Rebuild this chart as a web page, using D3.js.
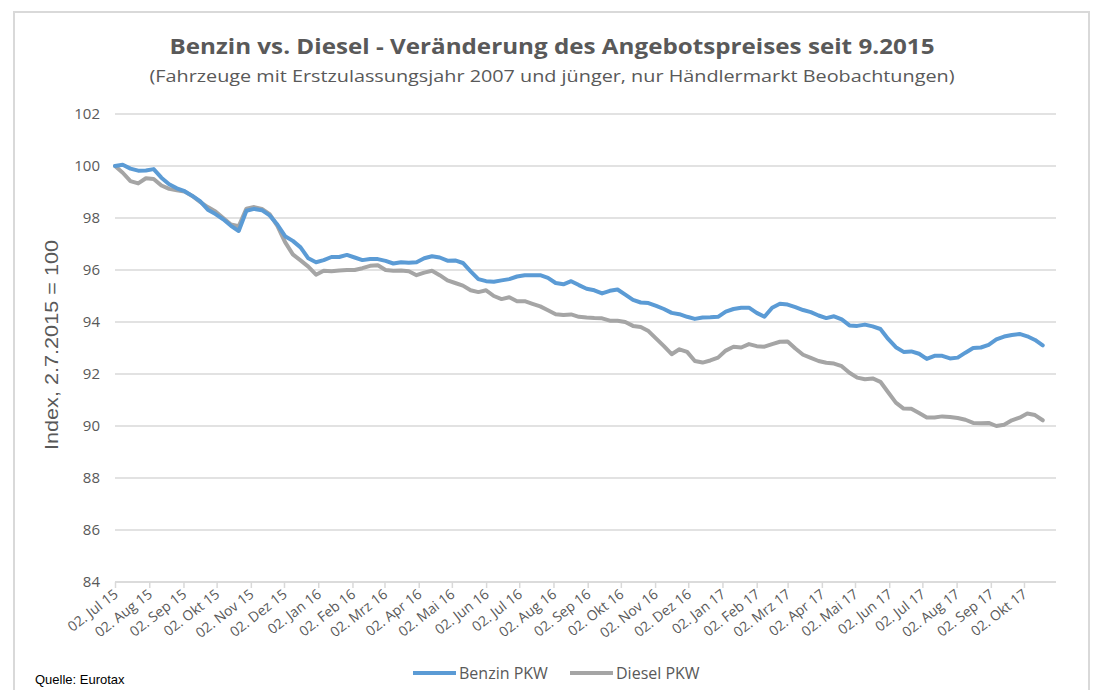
<!DOCTYPE html>
<html>
<head>
<meta charset="utf-8">
<title>Benzin vs. Diesel</title>
<script src="https://cdn.jsdelivr.net/npm/d3@7/dist/d3.min.js"></script>
<style>
  body { margin: 0; background: #fff; }
  text { font-family: "Open Sans", sans-serif; fill: #595959; }
</style>
</head>
<body>
<script>
// weekly index values, first point 02.07.2015
var startDate = new Date(2015, 6, 2);
var benzin = [
  100.0, 100.05, 99.9, 99.82, 99.83, 99.88, 99.55, 99.3, 99.14, 99.03,
  98.85, 98.65, 98.32, 98.15, 97.95, 97.7, 97.5, 98.28, 98.35, 98.3,
  98.1, 97.75, 97.3, 97.12, 96.87, 96.45, 96.3, 96.38, 96.5, 96.5,
  96.58, 96.48, 96.38, 96.42, 96.42, 96.35, 96.25, 96.3, 96.28, 96.3,
  96.45, 96.53, 96.48, 96.36, 96.37, 96.27, 95.95, 95.65, 95.57, 95.55,
  95.6, 95.65, 95.75, 95.8, 95.8, 95.8, 95.7, 95.5, 95.45, 95.57,
  95.42, 95.28, 95.22, 95.1, 95.2, 95.25, 95.05, 94.85, 94.75, 94.73,
  94.62, 94.5, 94.35, 94.3, 94.2, 94.12, 94.17, 94.18, 94.2, 94.4,
  94.5, 94.55, 94.55, 94.35, 94.2, 94.55, 94.7, 94.67, 94.57, 94.46,
  94.38, 94.25, 94.15, 94.22, 94.1, 93.87, 93.85, 93.9, 93.83, 93.73,
  93.35, 93.03, 92.85, 92.87, 92.78, 92.58, 92.7, 92.7, 92.6, 92.63,
  92.82, 93.0, 93.02, 93.12, 93.33, 93.44, 93.5, 93.54, 93.45, 93.31,
  93.1
];
var diesel = [
  100.0, 99.74, 99.42, 99.33, 99.53, 99.5, 99.25, 99.12, 99.07, 99.02,
  98.85, 98.62, 98.42, 98.25, 98.0, 97.75, 97.68, 98.36, 98.42, 98.35,
  98.15, 97.7, 97.07, 96.6, 96.37, 96.13, 95.82, 95.97, 95.95, 95.98,
  96.0, 96.0, 96.07, 96.16, 96.18, 96.0, 95.97, 95.98, 95.95, 95.8,
  95.9, 95.97, 95.8, 95.6, 95.5, 95.4, 95.22, 95.15, 95.22, 95.0,
  94.88, 94.95, 94.8, 94.8, 94.7, 94.6, 94.45, 94.3, 94.27, 94.29,
  94.2, 94.17, 94.15, 94.14, 94.05, 94.05, 94.0, 93.85, 93.81, 93.65,
  93.36, 93.07, 92.76, 92.95, 92.85, 92.5, 92.44, 92.52, 92.63, 92.9,
  93.05, 93.02, 93.15, 93.07, 93.05, 93.15, 93.24, 93.25, 92.98, 92.74,
  92.62, 92.5, 92.43, 92.4, 92.3, 92.05, 91.86, 91.8, 91.83, 91.7,
  91.3, 90.9, 90.67, 90.66, 90.5, 90.33, 90.33, 90.37, 90.35, 90.31,
  90.24, 90.12, 90.11, 90.12, 90.0, 90.05, 90.22, 90.32, 90.48, 90.42,
  90.22
];
var yTicks = [84, 86, 88, 90, 92, 94, 96, 98, 100, 102];
var monthNames = ["Jan", "Feb", "Mrz", "Apr", "Mai", "Jun", "Jul", "Aug", "Sep", "Okt", "Nov", "Dez"];
var seriesNames = ["Benzin PKW", "Diesel PKW"];
var colors = ["#5B9BD5", "#A5A5A5"];

var width = 1098, height = 690;
var margin = {top: 114, right: 42, bottom: 108, left: 115};

var svg = d3.select("body").append("svg")
    .attr("width", width)
    .attr("height", height);

// rahmen
svg.append("rect")
    .attr("x", 14).attr("y", 12)
    .attr("width", 1075).attr("height", 700)
    .attr("fill", "#fff")
    .attr("stroke", "#d9d9d9")
    .attr("stroke-width", 2);

var dates = benzin.map((d, i) => d3.timeDay.offset(startDate, 7 * i));
var monthTicks = d3.range(0, 28).map(i => new Date(2015, 6 + i, 2));

var x = d3.scaleTime()
    .domain([startDate, new Date(2017, 9, 31)])
    .range([margin.left, width - margin.right]);
var y = d3.scaleLinear()
    .domain([84, 102])
    .range([height - margin.bottom, margin.top]);

// gridlines
svg.append("g")
    .selectAll("line")
    .data(yTicks)
    .join("line")
    .attr("x1", x.range()[0]).attr("x2", x.range()[1])
    .attr("y1", d => y(d)).attr("y2", d => y(d))
    .attr("stroke", "#d9d9d9")
    .attr("stroke-width", 1.5);

// y achse
svg.append("g")
    .selectAll("text")
    .data(yTicks)
    .join("text")
    .attr("x", 100)
    .attr("y", d => y(d))
    .attr("dy", "0.35em")
    .attr("text-anchor", "end")
    .attr("font-size", 15)
    .text(d => d);

svg.append("text")
    .attr("transform", "translate(58,345) rotate(-90)")
    .attr("text-anchor", "middle")
    .style("font-family", "Liberation Sans, Arial, sans-serif")
    .attr("font-size", 19)
    .attr("textLength", 210)
    .attr("lengthAdjust", "spacingAndGlyphs")
    .text("Index,  2.7.2015 = 100");

// x achse
var xAxis = g => g
    .attr("transform", `translate(0,${y(84)})`)
    .call(d3.axisBottom(x).tickValues(monthTicks).tickSize(6).tickFormat(""))
    .call(g => g.select(".domain").attr("stroke", "#d9d9d9").attr("stroke-width", 1.5).attr("d", `M${x.range()[0]},0H${x.range()[1]}`))
    .call(g => g.selectAll(".tick line").attr("stroke", "#d9d9d9").attr("stroke-width", 1.5));
svg.append("g").call(xAxis);

svg.append("g")
    .selectAll("text")
    .data(monthTicks)
    .join("text")
    .attr("transform", d => `translate(${x(d) + 4},${y(84) + 14}) rotate(-38)`)
    .attr("text-anchor", "end")
    .attr("font-size", 14)
    .text(d => "02. " + monthNames[d.getMonth()] + " " + String(d.getFullYear()).slice(2));

// linien
var line = d3.line()
    .x((d, i) => x(dates[i]))
    .y(d => y(d));

svg.append("path")
    .datum(diesel)
    .attr("fill", "none")
    .attr("stroke", colors[1])
    .attr("stroke-width", 4)
    .attr("stroke-linejoin", "round")
    .attr("stroke-linecap", "round")
    .attr("d", line);

svg.append("path")
    .datum(benzin)
    .attr("fill", "none")
    .attr("stroke", colors[0])
    .attr("stroke-width", 4)
    .attr("stroke-linejoin", "round")
    .attr("stroke-linecap", "round")
    .attr("d", line);

// titel
svg.append("text")
    .attr("x", 552).attr("y", 54)
    .attr("text-anchor", "middle")
    .attr("font-size", 22)
    .attr("font-weight", "bold")
    .attr("textLength", 765)
    .attr("lengthAdjust", "spacingAndGlyphs")
    .text("Benzin vs. Diesel - Veränderung des Angebotspreises seit 9.2015");

svg.append("text")
    .attr("x", 552).attr("y", 82)
    .attr("text-anchor", "middle")
    .attr("font-size", 17)
    .attr("textLength", 805)
    .attr("lengthAdjust", "spacingAndGlyphs")
    .text("(Fahrzeuge mit Erstzulassungsjahr 2007 und jünger, nur Händlermarkt  Beobachtungen)");

// legende
var legendX = [413, 570];
var legend = svg.append("g")
    .selectAll("g")
    .data(seriesNames)
    .join("g")
    .attr("transform", (d, i) => `translate(${legendX[i]},673)`);
legend.append("line")
    .attr("x1", 0).attr("x2", 43)
    .attr("stroke", (d, i) => colors[i])
    .attr("stroke-width", 4);
legend.append("text")
    .attr("x", 46)
    .attr("dy", "0.35em")
    .attr("font-size", 16)
    .text(d => d);

svg.append("text")
    .attr("x", 35).attr("y", 684)
    .style("font-family", "Liberation Sans, Arial, sans-serif")
    .style("fill", "#000")
    .attr("font-size", 13)
    .text("Quelle:  Eurotax");
</script>
</body>
</html>
